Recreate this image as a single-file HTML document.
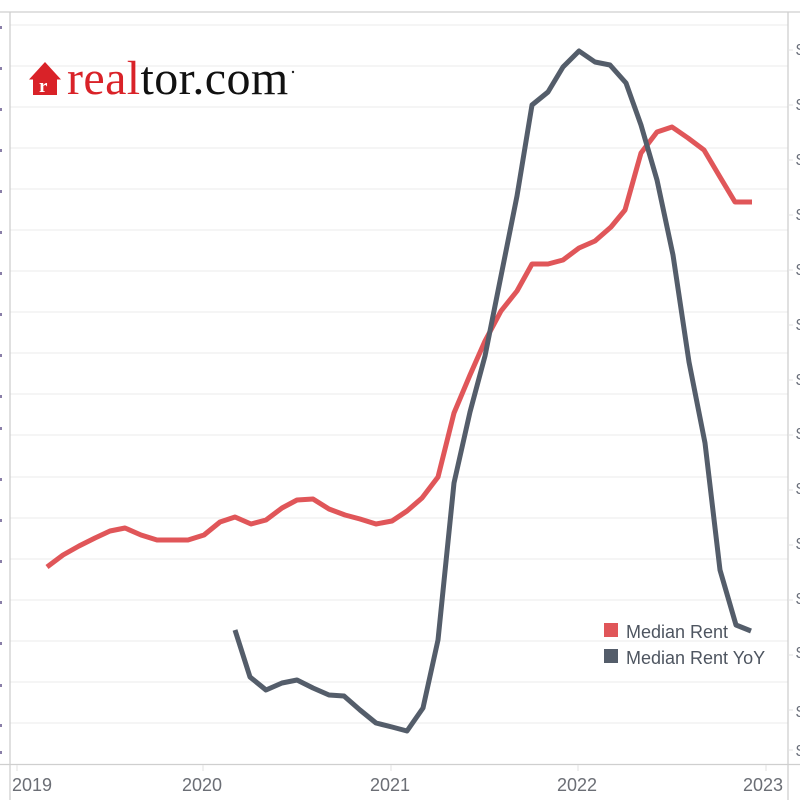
<!DOCTYPE html>
<html>
<head>
<meta charset="utf-8">
<style>
  html,body{margin:0;padding:0;background:#fff;}
  svg{display:block;}
</style>
</head>
<body>
<svg width="800" height="800" viewBox="0 0 800 800" xmlns="http://www.w3.org/2000/svg" style="font-family:'Liberation Sans','DejaVu Sans',sans-serif;">
  <rect x="0" y="0" width="800" height="800" fill="#fff"/>
  <!-- gridlines -->
  <g stroke="#efefef" stroke-width="1.2">
    <line x1="10" x2="788" y1="25" y2="25"/>
    <line x1="10" x2="788" y1="66" y2="66"/>
    <line x1="10" x2="788" y1="107" y2="107"/>
    <line x1="10" x2="788" y1="148" y2="148"/>
    <line x1="10" x2="788" y1="189" y2="189"/>
    <line x1="10" x2="788" y1="230" y2="230"/>
    <line x1="10" x2="788" y1="271" y2="271"/>
    <line x1="10" x2="788" y1="312" y2="312"/>
    <line x1="10" x2="788" y1="353" y2="353"/>
    <line x1="10" x2="788" y1="394" y2="394"/>
    <line x1="10" x2="788" y1="435" y2="435"/>
    <line x1="10" x2="788" y1="477" y2="477"/>
    <line x1="10" x2="788" y1="518" y2="518"/>
    <line x1="10" x2="788" y1="559" y2="559"/>
    <line x1="10" x2="788" y1="600" y2="600"/>
    <line x1="10" x2="788" y1="641" y2="641"/>
    <line x1="10" x2="788" y1="682" y2="682"/>
    <line x1="10" x2="788" y1="723" y2="723"/>
  </g>
  <!-- frame -->
  <g stroke="#cfcfcf" stroke-width="1.3">
    <line x1="0" x2="800" y1="12" y2="12"/>
    <line x1="0" x2="800" y1="764.5" y2="764.5"/>
    <line x1="10" x2="10" y1="12" y2="800"/>
    <line x1="788" x2="788" y1="12" y2="800"/>
  </g>
  <!-- year ticks -->
  <g stroke="#e2e2e2" stroke-width="1">
    <line x1="17" x2="17" y1="765" y2="771"/>
    <line x1="203" x2="203" y1="765" y2="771"/>
    <line x1="391" x2="391" y1="765" y2="771"/>
    <line x1="578" x2="578" y1="765" y2="771"/>
    <line x1="766" x2="766" y1="765" y2="771"/>
  </g>
  <!-- right ticks -->
  <g stroke="#e2e2e2" stroke-width="1">
    <line x1="788" x2="793" y1="50" y2="50"/>
    <line x1="788" x2="793" y1="105" y2="105"/>
    <line x1="788" x2="793" y1="160" y2="160"/>
    <line x1="788" x2="793" y1="215" y2="215"/>
    <line x1="788" x2="793" y1="270" y2="270"/>
    <line x1="788" x2="793" y1="325" y2="325"/>
    <line x1="788" x2="793" y1="380" y2="380"/>
    <line x1="788" x2="793" y1="435" y2="435"/>
    <line x1="788" x2="793" y1="490" y2="490"/>
    <line x1="788" x2="793" y1="545" y2="545"/>
    <line x1="788" x2="793" y1="600" y2="600"/>
    <line x1="788" x2="793" y1="655" y2="655"/>
    <line x1="788" x2="793" y1="710" y2="710"/>
    <line x1="788" x2="793" y1="750" y2="750"/>
  </g>
  <!-- right labels (clipped) -->
  <g font-size="16" fill="#6a6f7a">
    <text x="796" y="55">$</text>
    <text x="796" y="110">$</text>
    <text x="796" y="165">$</text>
    <text x="796" y="220">$</text>
    <text x="796" y="275">$</text>
    <text x="796" y="330">$</text>
    <text x="796" y="385">$</text>
    <text x="796" y="439">$</text>
    <text x="796" y="494">$</text>
    <text x="796" y="549">$</text>
    <text x="796" y="604">$</text>
    <text x="796" y="658">$</text>
    <text x="796" y="717">$</text>
    <text x="796" y="756">$</text>
  </g>
  <!-- left label remnants -->
  <g fill="#8a7fa8">
    <rect x="0" y="26" width="2" height="3"/>
    <rect x="0" y="67" width="2" height="3"/>
    <rect x="0" y="108" width="2" height="3"/>
    <rect x="0" y="149" width="2" height="3"/>
    <rect x="0" y="190" width="2" height="3"/>
    <rect x="0" y="231" width="2" height="3"/>
    <rect x="0" y="272" width="2" height="3"/>
    <rect x="0" y="313" width="2" height="3"/>
    <rect x="0" y="354" width="2" height="3"/>
    <rect x="0" y="395" width="2" height="3"/>
    <rect x="0" y="427" width="2" height="3"/>
    <rect x="0" y="478" width="2" height="3"/>
    <rect x="0" y="519" width="2" height="3"/>
    <rect x="0" y="560" width="2" height="3"/>
    <rect x="0" y="601" width="2" height="3"/>
    <rect x="0" y="642" width="2" height="3"/>
    <rect x="0" y="684" width="2" height="3"/>
    <rect x="0" y="724" width="2" height="3"/>
    <rect x="0" y="751" width="2" height="3"/>
  </g>
  <!-- year labels -->
  <g font-size="18" fill="#6b6e75">
    <text x="12" y="791">2019</text>
    <text x="182" y="791">2020</text>
    <text x="370" y="791">2021</text>
    <text x="557" y="791">2022</text>
    <text x="743" y="791">2023</text>
  </g>
  <!-- Median Rent (red) -->
  <polyline fill="none" stroke="#e05659" stroke-width="5" stroke-linejoin="round" stroke-linecap="butt"
    points="47,567 63,555 79,546 95,538 110,531 125,528 141,535 157,540 172,540 188,540 204,535 220,522 235,517 251,524 266,520 282,508 297,500 313,499 329,509 345,515 360,519 376,524 392,521 407,511 422,498 438,477 454,413 470,375 485,341 501,311 517,291 532,264 548,264 563,260 579,248 595,241 611,227 625,210 641,153 657,132 672,127 688,138 704,150 720,177 735,202 752,202"/>
  <!-- Median Rent YoY (gray) -->
  <polyline fill="none" stroke="#545d6a" stroke-width="5" stroke-linejoin="round" stroke-linecap="butt"
    points="235,630 250,677 266,690 282,683 297,680 313,688 329,695 344,696 360,710 376,723 392,727 407,731 423,708 438,640 454,483 470,412 485,356 501,276 517,196 532,105 548,92 563,67 579,51 595,62 610,65 626,83 641,125 657,180 673,255 689,362 705,443 720,570 736,625 751,631"/>
  <!-- legend -->
  <rect x="604" y="623" width="14" height="14" fill="#e05659"/>
  <rect x="604" y="649" width="14" height="14" fill="#545d6a"/>
  <g font-size="18" fill="#4e5560">
    <text x="626" y="638">Median Rent</text>
    <text x="626" y="664">Median Rent YoY</text>
  </g>
  <!-- realtor.com logo -->
  <g>
    <path d="M29,79.5 L45,62 L61,79.5 L57,79.5 L57,95 L33,95 L33,79.5 Z" fill="#d92228"/>
    <text x="39" y="92" style="font-family:'Liberation Serif',serif;font-size:19px;font-weight:bold;" fill="#fff">r</text>
    <text x="67" y="94" style="font-family:'Liberation Serif','DejaVu Serif',serif;font-size:48px;letter-spacing:0.4px;"><tspan fill="#d92228">real</tspan><tspan fill="#111">tor.com</tspan></text>
    <circle cx="293" cy="72" r="1.2" fill="#222"/>
  </g>
</svg>
</body>
</html>
